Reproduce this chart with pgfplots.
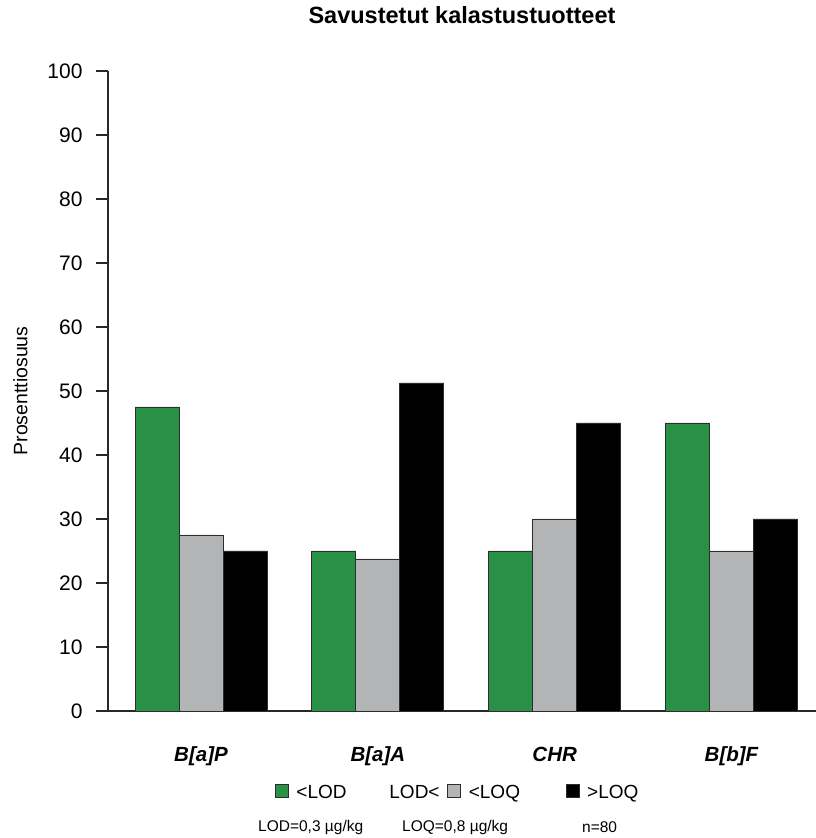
\documentclass[border=0pt]{standalone}
\usepackage{pgfplots}
\pgfplotsset{compat=1.18}
\usepackage{fontspec}
\setmainfont{Liberation Sans}
\definecolor{cgreen}{RGB}{40,145,70}
\definecolor{cgray}{RGB}{178,180,181}
\definecolor{cedge}{RGB}{45,45,45}
\definecolor{caxis}{RGB}{40,40,40}
\pgfplotsset{
  legimg/.style={draw=cedge, line width=0.8pt,
    legend image code/.code={\draw[##1] (0pt,-5.5pt) rectangle (13pt,7.5pt); \path[draw=none,fill=none] (0pt,0pt) -- (21pt,0pt);}},
  leggap/.style={legend image code/.code={\path[draw=none,fill=none] (0pt,0pt) -- (8pt,0pt);}},
}
\begin{document}
\begin{tikzpicture}
\useasboundingbox (-108pt,-127pt) rectangle (708pt,711pt);
\begin{axis}[
  at={(0pt,0pt)}, anchor=south west,
  scale only axis, width=708pt, height=640pt,
  ybar=0pt, bar width=44pt,
  xmin=-0.526, xmax=3.478, ymin=0, ymax=100,
  axis x line=bottom, axis y line=left,
  axis line style={-, line width=1.3pt, color=caxis},
  ytick={0,10,...,100},
  tick align=outside, major tick length=12pt,
  ytick style={line width=1.3pt, color=caxis},
  xtick={0,1,2,3}, xticklabels={B[a]P,B[a]A,CHR,B[b]F},
  xtick style={draw=none},
  xticklabel style={font=\fontsize{20.5}{24}\selectfont\bfseries\itshape, anchor=base, yshift=-38pt},
  yticklabel style={font=\fontsize{21}{25}\selectfont, xshift=-10pt},
  /pgf/number format/assume math mode=true,
  title={Savustetut kalastustuotteet},
  title style={at={(axis description cs:0.5,1.078)}, anchor=center, font=\fontsize{23.5}{28}\selectfont\bfseries},
  ylabel={Prosenttiosuus},
  ylabel style={at={(axis description cs:-0.1236,0.5)}, anchor=center, font=\fontsize{19.5}{23}\selectfont},
  legend columns=4,
  legend style={at={(axis description cs:0.2359,-0.1266)}, anchor=west, draw=none, fill=none,
    inner sep=0pt, outer sep=0pt, font=\fontsize{19}{22}\selectfont,
    nodes={inner sep=0pt}},
  clip=false,
]
\addplot[forget plot, bar shift=-44pt, fill=cgreen, draw=cedge, line width=0.8pt] coordinates {(0,47.5) (1,25) (2,25) (3,45)};
\addplot[forget plot, bar shift=0pt, fill=cgray, draw=cedge, line width=0.8pt] coordinates {(0,27.5) (1,23.75) (2,30) (3,25)};
\addplot[forget plot, bar shift=44pt, fill=black, draw=cedge, line width=0.8pt] coordinates {(0,25) (1,51.25) (2,45) (3,30)};
\addlegendimage{legimg, fill=cgreen}
\addlegendentry{\makebox[85pt][l]{<LOD}}
\addlegendimage{leggap}
\addlegendentry{\makebox[58pt][l]{LOD<}}
\addlegendimage{legimg, fill=cgray}
\addlegendentry{\makebox[97pt][l]{<LOQ}}
\addlegendimage{legimg, fill=black}
\addlegendentry{>LOQ}
\end{axis}
\begin{scope}[every node/.style={anchor=west, inner sep=0pt, font=\fontsize{15.5}{18}\selectfont}]
\node at (150pt,-116pt) {LOD=0,3 µg/kg};
\node at (294pt,-116pt) {LOQ=0,8 µg/kg};
\node at (474pt,-116pt) {n=80};
\end{scope}
\end{tikzpicture}
\end{document}
